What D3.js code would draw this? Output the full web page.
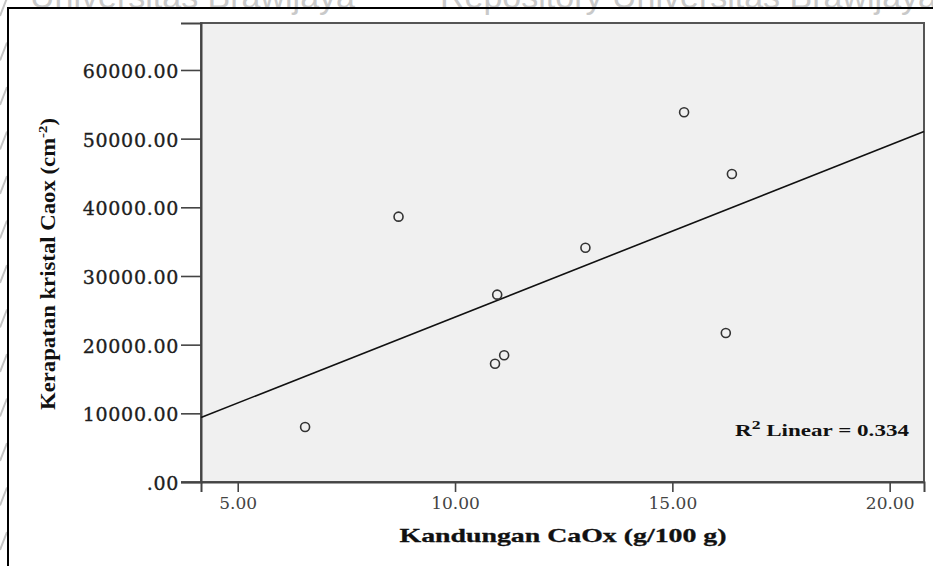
<!DOCTYPE html>
<html>
<head>
<meta charset="utf-8">
<script src="https://cdn.jsdelivr.net/npm/d3@7"></script>
<style>
html,body{margin:0;padding:0;background:#fff;}
svg{display:block;}
</style>
</head>
<body>
<svg id="chart" width="933" height="566"></svg>
<script>
// ---- data ----
const kandunganCaOx = [6.55, 8.70, 10.97, 10.92, 11.13, 13.00, 15.27, 16.37, 16.23];
const kerapatanKristal = [8010, 38640, 27280, 17230, 18450, 34120, 53840, 44850, 21700];
const xTicks = [5, 10, 15, 20];
const xTickLabels = ["5.00", "10.00", "15.00", "20.00"];
const yTicks = [0, 10000, 20000, 30000, 40000, 50000, 60000];
const yTickLabels = [".00", "10000.00", "20000.00", "30000.00", "40000.00", "50000.00", "60000.00"];
const xTitle = "Kandungan CaOx (g/100 g)";
const yTitle = "Kerapatan kristal Caox (cm";
const r2Text = " Linear = 0.334";
const watermark = ["Universitas Brawijaya", "Repository Universitas Brawijaya"];

const svg = d3.select("#chart");
const L = 201, R = 924, T = 23, B = 482;

const x = d3.scaleLinear().domain([4.155, 20.79]).range([L, R]);
const y = d3.scaleLinear().domain([0, 66840]).range([B, T]);

// watermark (cut off at the top edge, as in the source scan)
svg.append("text").attr("x", 30).attr("y", 8)
  .attr("font-family", "Liberation Sans, Arial, sans-serif").attr("font-size", 34)
  .attr("fill", "#c9c9c9").text(watermark[0]);
svg.append("text").attr("x", 440).attr("y", 8)
  .attr("font-family", "Liberation Sans, Arial, sans-serif").attr("font-size", 34)
  .attr("fill", "#c9c9c9").text(watermark[1]);
// left-margin slashes
svg.append("g").selectAll("line").data(d3.range(0, 566, 44.5)).join("line")
  .attr("x1", 0).attr("y1", d => d + 16).attr("x2", 7).attr("y2", d => d - 2)
  .attr("stroke", "#c4c4c4").attr("stroke-width", 2);

// outer frame
svg.append("rect").attr("x", 8).attr("y", 8).attr("width", 960).attr("height", 600)
  .attr("fill", "none").attr("stroke", "#000").attr("stroke-width", 2);

// plot area
svg.append("rect").attr("x", L).attr("y", T).attr("width", R - L).attr("height", B - T)
  .attr("fill", "#f0f0f0").attr("stroke", "#555").attr("stroke-width", 2);

// y axis
const yAxis = d3.axisLeft(y).tickValues(yTicks).tickSize(20).tickPadding(2)
  .tickFormat((d, i) => yTickLabels[i]);
const gy = svg.append("g").attr("transform", `translate(${L},0)`).call(yAxis);
gy.select(".domain").attr("stroke", "#444").attr("stroke-width", 2);
gy.selectAll(".tick line").attr("stroke", "#444").attr("stroke-width", 1.6);
gy.selectAll("text").attr("font-family", "DejaVu Serif, serif").attr("font-size", 19)
  .attr("letter-spacing", "0.7px").attr("fill", "#1e1e1e")
  .attr("stroke", "#1e1e1e").attr("stroke-width", 0.35).attr("dy", "0.4em");

// x axis
const xAxis = d3.axisBottom(x).tickValues(xTicks).tickSize(10).tickPadding(5)
  .tickFormat((d, i) => xTickLabels[i]);
const gx = svg.append("g").attr("transform", `translate(0,${B})`).call(xAxis);
gx.select(".domain").attr("stroke", "#444").attr("stroke-width", 2);
gx.selectAll(".tick line").attr("stroke", "#444").attr("stroke-width", 1.6);
gx.selectAll("text").attr("font-family", "DejaVu Serif, serif").attr("font-size", 17)
  .attr("fill", "#444");
// extend baseline to meet .00 tick
svg.append("line").attr("x1", L - 20).attr("x2", L).attr("y1", B).attr("y2", B)
  .attr("stroke", "#444").attr("stroke-width", 1.6);

// regression
const mx = d3.mean(kandunganCaOx), my = d3.mean(kerapatanKristal);
let sxy = 0, sxx = 0;
kandunganCaOx.forEach((v, i) => { sxy += (v - mx) * (kerapatanKristal[i] - my); sxx += (v - mx) ** 2; });
const slope = sxy / sxx, icpt = my - slope * mx;
const [x0, x1] = x.domain();
svg.append("line")
  .attr("x1", x(x0)).attr("y1", y(icpt + slope * x0))
  .attr("x2", x(x1)).attr("y2", y(icpt + slope * x1))
  .attr("stroke", "#111").attr("stroke-width", 1.6);

// points
svg.append("g").selectAll("circle").data(kandunganCaOx).join("circle")
  .attr("cx", d => x(d)).attr("cy", (d, i) => y(kerapatanKristal[i]))
  .attr("r", 4.5).attr("fill", "none").attr("stroke", "#333").attr("stroke-width", 1.6);

// R2 label
const r2 = svg.append("text").attr("x", 735).attr("y", 436)
  .attr("font-family", "Liberation Serif, Times New Roman, serif").attr("font-weight", "bold")
  .attr("font-size", 17).attr("fill", "#111")
  .attr("textLength", 174).attr("lengthAdjust", "spacingAndGlyphs");
r2.append("tspan").text("R");
r2.append("tspan").attr("font-size", 13).attr("dy", -7).text("2");
r2.append("tspan").attr("dy", 7).text(r2Text);

// x title
svg.append("text").attr("x", 563).attr("y", 542).attr("text-anchor", "middle")
  .attr("font-family", "Liberation Serif, Times New Roman, serif").attr("font-weight", "bold")
  .attr("font-size", 19).attr("fill", "#111").attr("stroke", "#111").attr("stroke-width", 0.3)
  .attr("textLength", 327).attr("lengthAdjust", "spacingAndGlyphs")
  .text(xTitle);

// y title
const yt = svg.append("text").attr("transform", "translate(55,264) rotate(-90)")
  .attr("text-anchor", "middle")
  .attr("font-family", "Liberation Serif, Times New Roman, serif").attr("font-weight", "bold")
  .attr("font-size", 20).attr("fill", "#111")
  .attr("textLength", 292).attr("lengthAdjust", "spacingAndGlyphs");
yt.append("tspan").text(yTitle);
yt.append("tspan").attr("font-size", 13).attr("dy", -8).text("-2");
yt.append("tspan").attr("dy", 8).text(")");
</script>
</body>
</html>
